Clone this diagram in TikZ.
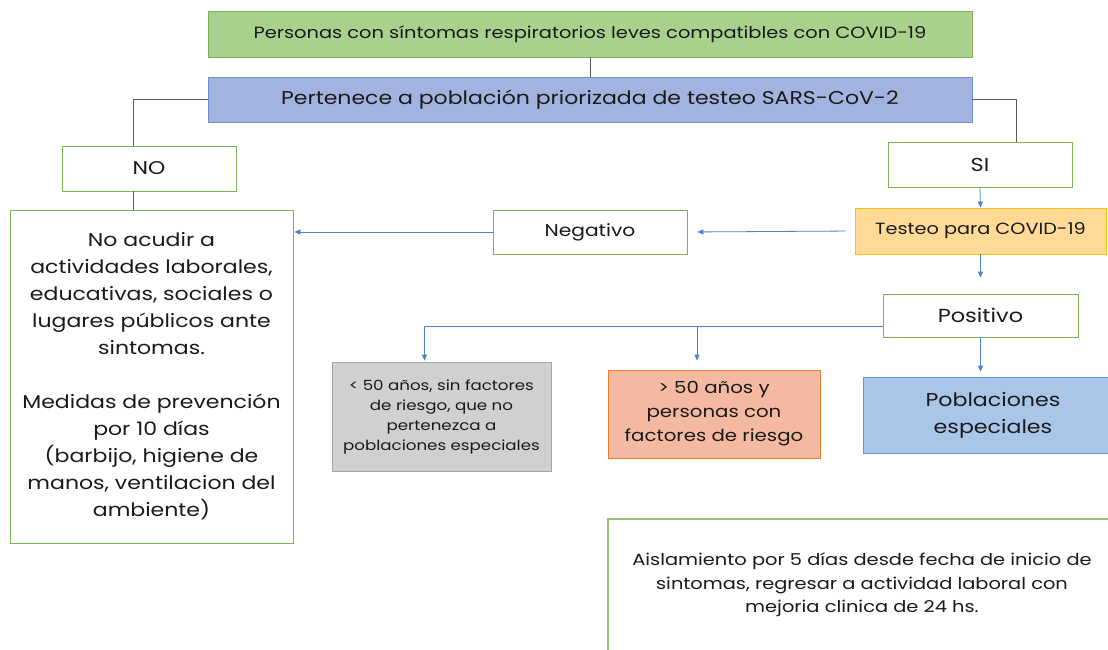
\documentclass[tikz,border=0pt]{standalone}
\usepackage{fontspec}
\setmainfont{Poppins}[FakeStretch=1.19]
\usepackage{tikz}
\usetikzlibrary{arrows.meta,positioning}
\definecolor{cgreenf}{HTML}{A9D18E}
\definecolor{cgreenl}{HTML}{7CB356}
\definecolor{cbluef}{HTML}{A3B3DF}
\definecolor{cbluel}{HTML}{6F8FD0}
\definecolor{cyelf}{HTML}{FFD996}
\definecolor{cyell}{HTML}{FFC000}
\definecolor{cgrayf}{HTML}{D0D0D0}
\definecolor{cgrayl}{HTML}{A5A5A5}
\definecolor{corf}{HTML}{F4B9A0}
\definecolor{corl}{HTML}{ED7D31}
\definecolor{cskyf}{HTML}{A9C6E8}
\definecolor{cskyl}{HTML}{5B9BD5}
\definecolor{carrow}{HTML}{4F7FD0}
\definecolor{cline}{HTML}{595959}
\definecolor{cink}{HTML}{1A1A1A}
\newcommand{\fs}[2]{\fontsize{#1}{#2}\selectfont}
\tikzset{
  >={Triangle[length=6pt,width=5pt]},
  fbox/.style={draw=#1,line width=0.8pt,align=center,inner sep=0pt,text=cink},
  wbox/.style={fbox=cgreenl,fill=white},
  tree/.style={cline,line width=0.9pt},
  flow/.style={->,carrow,line width=0.8pt},
}

\begin{document}
\begin{tikzpicture}[x=1pt,y=-1pt]
\clip (0,0) rectangle (1108,650);
\fill[white] (0,0) rectangle (1108,650);

\node[fbox=cgreenl,fill=cgreenf,minimum width=764pt,minimum height=46pt,font=\fs{16.3}{20}] (sint) at (590,34) {Personas con síntomas respiratorios leves compatibles con COVID-19};
\node[fbox=cbluel,fill=cbluef,minimum width=764pt,minimum height=45pt,font=\fs{18.5}{24}] (prio) at (590,99.5) {Pertenece a población priorizada de testeo SARS-CoV-2};
\node[wbox,minimum width=174pt,minimum height=45pt,font=\fs{18.5}{24}] (no) at (149,168.5) {NO};
\node[wbox,minimum width=184pt,minimum height=45pt,font=\fs{18.8}{24}] (si) at (980,164.5) {SI};
\node[wbox,minimum width=283pt,minimum height=333pt,font=\fs{18.5}{27}] (aviso) at (151.5,376.5) {No acudir a\\actividades laborales,\\educativas, sociales o\\lugares públicos ante\\sintomas.\\[27pt]Medidas de prevención\\por 10 días\\(barbijo, higiene de\\manos, ventilacion del\\ambiente)};
\node[fbox=cyell,fill=cyelf,minimum width=251pt,minimum height=46pt,font=\fs{16.2}{22}] (test) at (980.5,231) {Testeo para COVID-19};
\node[wbox,minimum width=194pt,minimum height=44pt,font=\fs{17}{22}] (neg) at (590,232) {Negativo};
\node[wbox,minimum width=195pt,minimum height=43pt,font=\fs{18.9}{22}] (pos) at (980.5,315.5) {Positivo};
\node[fbox=cgrayl,fill=cgrayf,minimum width=219pt,minimum height=109pt,font=\fs{14}{20}] (menor) at (441.5,416.5) {< 50 años, sin factores\\de riesgo, que no\\pertenezca a\\poblaciones especiales};
\node[fbox=corl,fill=corf,minimum width=212pt,minimum height=88pt,font=\fs{16.6}{24}] (mayor) at (714,414) {> 50 años y\\personas con\\factores de riesgo};
\node[fbox=cskyl,fill=cskyf,minimum width=260pt,minimum height=76pt,font=\fs{18.6}{27}] (esp) at (993,415) {Poblaciones\\especiales};
\node[fbox=cgreenl!80,fill=white,line width=2.6pt,minimum width=508pt,minimum height=132pt,font=\fs{16.3}{23.5}] (aisl) at (862,585) {Aislamiento por 5 días desde fecha de inicio de\\sintomas, regresar a actividad laboral con\\mejoria clinica de 24 hs.};

% arbol de decision
\draw[tree] (sint.south) -- (prio.north);
\draw[tree] (prio.west) -| ([xshift=-16pt]no.north);
\draw[tree] ([xshift=-16pt]no.south) -- ([xshift=-16pt]no.south |- aviso.north);
\draw[tree] (prio.east) -| ([xshift=36pt]si.north);

% flujo del testeo
\draw[flow] (si.south) -- (test.north);
\draw[flow,shorten <=9pt,shorten >=10pt] (test.west) -- (neg.east);
\draw[flow,shorten >=1pt] (neg.west) -- (aviso.east |- neg.west);
\draw[flow,shorten >=16pt] (test.south) -- (pos.north);
\draw[flow,shorten >=1pt] ([yshift=-11pt]pos.west) -| ([xshift=-17pt]menor.north);
\coordinate (rama) at ([xshift=-17pt]mayor.north |- pos.west);
\draw[flow,shorten >=9pt] ([yshift=-11pt]rama) -- ([xshift=-17pt]mayor.north);
\draw[flow,shorten >=5pt] (pos.south) -- (pos.south |- esp.north);

\end{tikzpicture}
\end{document}
